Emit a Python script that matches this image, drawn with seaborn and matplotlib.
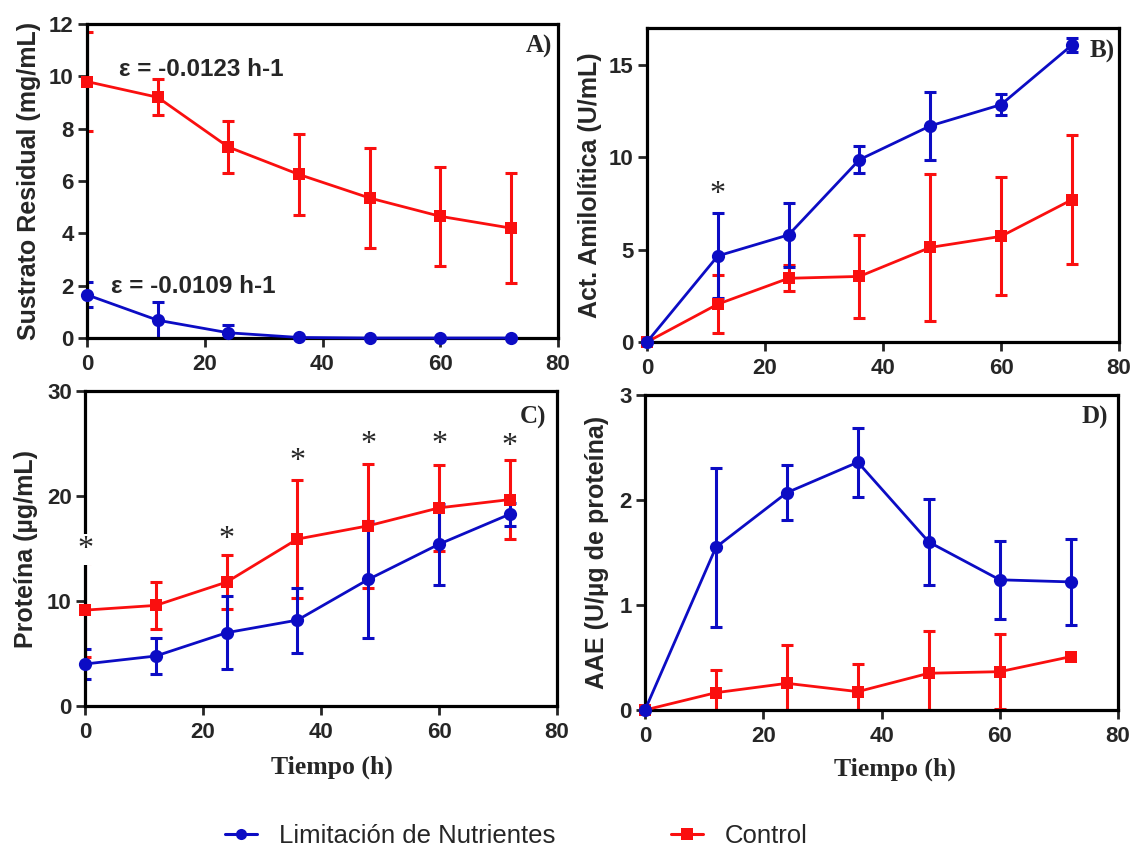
import numpy as np
import pandas as pd
import matplotlib
matplotlib.use("Agg")
import matplotlib.pyplot as plt
import seaborn as sns
from matplotlib.lines import Line2D

# ---------------- data ----------------
tiempo = [0, 12, 24, 36, 48, 60, 72]
grupos = ["Limitación de Nutrientes", "Control"]

sust_lim = [1.65, 0.68, 0.2, 0.02, 0.0, 0.0, 0.0]
sust_lim_err = [0.48, 0.7, 0.3, 0.0, 0.0, 0.0, 0.0]
sust_ctl = [9.8, 9.2, 7.3, 6.25, 5.35, 4.65, 4.2]
sust_ctl_err = [1.9, 0.68, 1.0, 1.55, 1.9, 1.9, 2.1]

amil_lim = [0.0, 4.66, 5.8, 9.87, 11.7, 12.85, 16.07]
amil_lim_err = [0.0, 2.3, 1.75, 0.72, 1.85, 0.55, 0.38]
amil_ctl = [0.0, 2.05, 3.45, 3.55, 5.12, 5.72, 7.7]
amil_ctl_err = [0.0, 1.57, 0.7, 2.25, 4.0, 3.2, 3.5]

prot_lim = [4.0, 4.76, 6.98, 8.18, 12.05, 15.41, 18.27]
prot_lim_err = [1.4, 1.75, 3.45, 3.1, 5.6, 3.85, 1.08]
prot_ctl = [9.13, 9.58, 11.8, 15.9, 17.16, 18.87, 19.66]
prot_ctl_err = [4.5, 2.2, 2.6, 5.6, 5.9, 4.1, 3.8]

aae_lim = [0.0, 1.55, 2.07, 2.36, 1.6, 1.24, 1.22]
aae_lim_err = [0.0, 0.755, 0.26, 0.33, 0.41, 0.37, 0.41]
aae_ctl = [0.0, 0.165, 0.254, 0.175, 0.35, 0.365, 0.508]
aae_ctl_err = [0.0, 0.215, 0.365, 0.26, 0.4, 0.355, 0.0]

ast_b_x = [12]
ast_b_y = [8.0]
ast_c_x = [0, 24, 36, 48, 60, 72]
ast_c_y = [14.9, 15.9, 23.3, 24.9, 24.9, 24.75]

# ---------------- style ----------------
sns.set_style("ticks")
plt.rcParams["font.family"] = ["Liberation Sans", "DejaVu Sans"]

BLUE = "#0C0CC4"
RED = "#FA0F0F"
palette = {grupos[0]: BLUE, grupos[1]: RED}
markers = {grupos[0]: "o", grupos[1]: "s"}
sizes_mk = {grupos[0]: 9.5, grupos[1]: 8.5}

fig = plt.figure(figsize=(11.35, 8.46), dpi=100)
W, H = 1135, 846


def axes_px(l, t, r, b):
    return fig.add_axes([l / W, (H - b) / H, (r - l) / W, (b - t) / H])


axA = axes_px(87, 24, 558, 338)
axB = axes_px(647, 28, 1119, 342)
axC = axes_px(85, 391, 557, 706)
axD = axes_px(645, 395, 1118, 710)

panels = [
    (axA, sust_lim, sust_lim_err, sust_ctl, sust_ctl_err, (0, 12), [0, 2, 4, 6, 8, 10, 12],
     "Sustrato Residual (mg/mL)", "A)", (0.987, 0.965), -0.098),
    (axB, amil_lim, amil_lim_err, amil_ctl, amil_ctl_err, (0, 17), [0, 5, 10, 15],
     "Act. Amilolítica (U/mL)", "B)", (0.992, 0.962), -0.095),
    (axC, prot_lim, prot_lim_err, prot_ctl, prot_ctl_err, (0, 30), [0, 10, 20, 30],
     "Proteína (µg/mL)", "C)", (0.977, 0.952), -0.100),
    (axD, aae_lim, aae_lim_err, aae_ctl, aae_ctl_err, (0, 3), [0, 1, 2, 3],
     "AAE (U/µg de proteína)", "D)", (0.979, 0.965), -0.076),
]

for ax, ylim_, ylerr, yctl, yctlerr, ylims, yticks, ylabel, letter, lpos, ylx in panels:
    df = pd.DataFrame({
        "Tiempo": tiempo * 2,
        "valor": list(ylim_) + list(yctl),
        "Grupo": [grupos[0]] * len(tiempo) + [grupos[1]] * len(tiempo),
    })
    # error bars (clipped to the axes, as in the reference)
    for vals, errs, col in [(yctl, yctlerr, RED), (ylim_, ylerr, BLUE)]:
        e = np.array(errs)
        mask = e > 0
        ax.errorbar(np.array(tiempo)[mask], np.array(vals)[mask], yerr=e[mask],
                    fmt="none", ecolor=col, elinewidth=2.2, capsize=4.5,
                    capthick=2.2, zorder=2)
    n_before = len(ax.lines)
    sns.lineplot(data=df, x="Tiempo", y="valor", hue="Grupo", style="Grupo",
                 hue_order=[grupos[1], grupos[0]], style_order=[grupos[1], grupos[0]],
                 palette=palette, markers=markers, dashes=False, markersize=9,
                 markeredgewidth=0, linewidth=2.0, legend=False, ax=ax, zorder=3)
    for ln in ax.lines[n_before:]:
        ln.set_clip_on(False)
        if ln.get_marker() == "o":
            ln.set_markersize(sizes_mk[grupos[0]])
        else:
            ln.set_markersize(sizes_mk[grupos[1]])
    ax.set_xlim(0, 80)
    ax.set_ylim(*ylims)
    ax.set_xticks([0, 20, 40, 60, 80])
    ax.set_yticks(yticks)
    ax.set_ylabel(ylabel, fontsize=18, fontweight="bold")
    ax.yaxis.set_label_coords(ylx, 0.5)
    ax.set_xlabel("")
    for sp in ax.spines.values():
        sp.set_linewidth(2.3)
        sp.set_color("black")
    ax.tick_params(axis="both", direction="out", length=6.5, width=2.0,
                   labelsize=16, pad=3)
    ax.tick_params(axis="x", pad=5)
    for lab in ax.get_xticklabels() + ax.get_yticklabels():
        lab.set_fontweight("bold")
    ax.text(lpos[0], lpos[1], letter, transform=ax.transAxes, ha="right", va="top",
            fontsize=18, fontweight="bold", family="Liberation Serif")

for ax, xl in ((axC, (0.523, -0.156)), (axD, (0.528, -0.152))):
    ax.set_xlabel("Tiempo (h)", fontsize=18.5, fontweight="bold",
                  family="Liberation Serif")
    ax.xaxis.set_label_coords(*xl)

# annotations
axA.text(5.5, 10.25, "ε = -0.0123 h-1", fontsize=17.5, fontweight="bold", va="center")
axA.text(4.0, 1.95, "ε = -0.0109 h-1", fontsize=17.5, fontweight="bold", va="center")
for x, y in zip(ast_b_x, ast_b_y):
    axB.text(x, y, "*", fontsize=23, ha="center", va="center", family="Liberation Serif")
for x, y in zip(ast_c_x, ast_c_y):
    t = axC.text(x, y, "*", fontsize=23, ha="center", va="center",
                 family="Liberation Serif", zorder=5)
    if x == 0:
        t.set_bbox(dict(facecolor="white", edgecolor="none", pad=1))

# legend
handles = [
    Line2D([], [], color=BLUE, marker="o", markersize=8, linewidth=2.2, markeredgewidth=0),
    Line2D([], [], color=RED, marker="s", markersize=8, linewidth=2.2, markeredgewidth=0),
]
fig.legend(handles, grupos, loc="center", bbox_to_anchor=(516 / W, (H - 836) / H),
           ncol=2, frameon=False, fontsize=18.5, columnspacing=4.5, handlelength=1.28,
           handletextpad=0.82, borderpad=0.1)

fig.savefig("out.png", dpi=100)
